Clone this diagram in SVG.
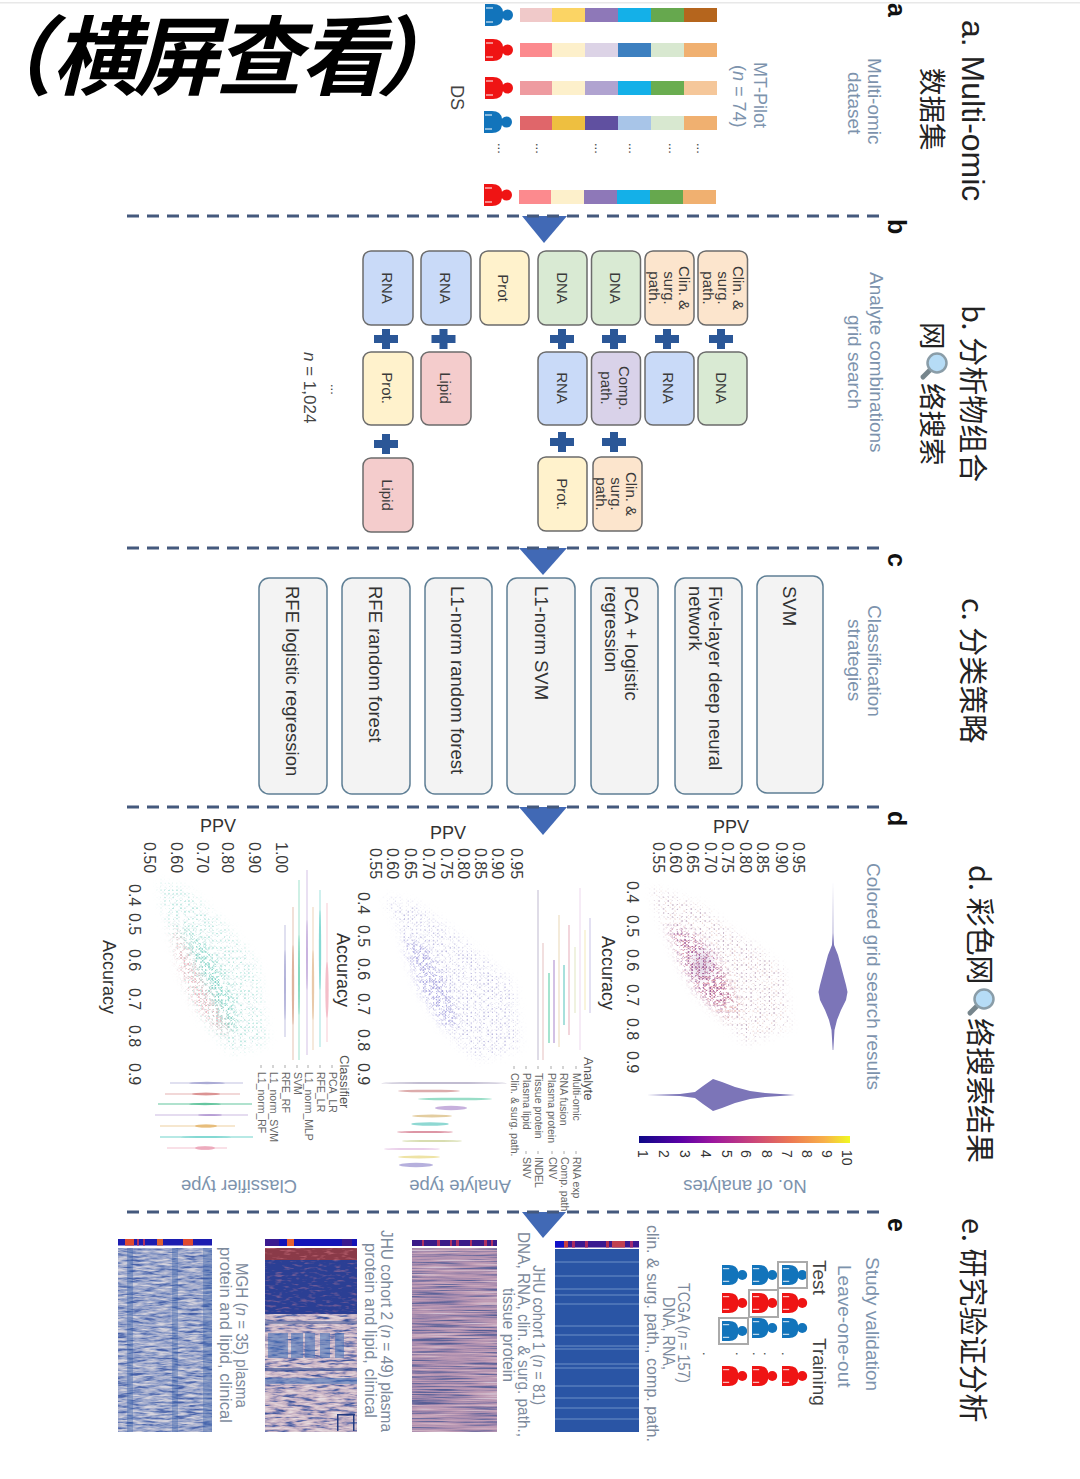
<svg xmlns="http://www.w3.org/2000/svg" width="1080" height="1479" viewBox="0 0 1080 1479">
<style>
text{font-family:"Liberation Sans",Arial,"Noto Sans CJK SC",sans-serif;fill:#333}
.cjk{font-family:"Noto Sans CJK SC","Liberation Sans",sans-serif;font-size:29px;fill:#222}
.sec{font-size:32px;fill:#222}
.cn2{font-family:"Noto Sans CJK SC",sans-serif;font-size:27.5px;fill:#222}
.let{font-size:25px;font-weight:700;fill:#111}
.lab{font-size:19px;fill:#7d93ad}
.lab2{font-size:16.5px;fill:#7d8a9c}
.dk{font-size:18px;fill:#444}
.bx{stroke:#6b6b6b;stroke-width:1.5}
.rna{fill:#c9daf8}.dna{fill:#d9ead3}.prot{fill:#fff2cc}.lip{fill:#f4cccc}.cl{fill:#fce5cd}.cp{fill:#d9d2e9}
.bt{font-size:15px;text-anchor:middle;fill:#3a3a3a}
.cb{fill:#f3f3f3;stroke:#5f7f95;stroke-width:1.5}
.ct{font-size:18.5px;fill:#333}
.tk{font-size:16px;fill:#3a3a3a}
.ppv{font-size:18px;fill:#333}
.leg{font-size:10.5px;fill:#666}
.legh{font-size:13px;fill:#555}
.up{font-size:18.5px;fill:#7d93ad;text-anchor:middle}
.blue{fill:#1274bb}.red{fill:#ef1414}
.gb{fill:none;stroke:#aaaaaa;stroke-width:2}
.dash{stroke:#44597d;stroke-width:3;stroke-dasharray:12 8;fill:none}
.tri{fill:#4169b5}
.vl{stroke-width:1;opacity:.55}
.sc{filter:url(#sparse)}
.mk{stroke:#aaa;stroke-width:1}
</style>
<defs>
<g id="pb"><path d="M0,-11H8Q17,-11 18,-3V3Q17,11 8,11H0Z"/><circle cx="22.500" cy="0" r="5.500"/><path d="M1,-7H8M1,7H8" stroke="#fff" stroke-width="1" fill="none"/></g>
<path id="plus" d="M-4,-10H4V-4H12V4H4V10H-4V4H-12V-4H-4Z" fill="#2b5797"/>
<linearGradient id="plasma"><stop offset="0" stop-color="#0d0887"/><stop offset=".2" stop-color="#5c01a6"/><stop offset=".35" stop-color="#9c179e"/><stop offset=".55" stop-color="#cc4778"/><stop offset=".72" stop-color="#ed7953"/><stop offset=".88" stop-color="#f8b149"/><stop offset="1" stop-color="#f0f921"/></linearGradient>
<filter id="soft" x="-10%" y="-60%" width="120%" height="220%"><feGaussianBlur stdDeviation=".5"/></filter>
<filter id="softv" x="-100%" y="-10%" width="300%" height="120%"><feGaussianBlur stdDeviation=".5"/></filter>
<filter id="blur3" x="-30%" y="-30%" width="160%" height="160%"><feGaussianBlur stdDeviation="5"/></filter>
<filter id="sparse" x="0" y="0" width="1" height="1" color-interpolation-filters="sRGB"><feTurbulence type="fractalNoise" baseFrequency=".3" numOctaves="2" seed="5"/><feColorMatrix type="matrix" values="0 0 0 0 0 0 0 0 0 0 0 0 0 0 0 10 0 0 0 -4.4" result="m"/><feComposite in="SourceGraphic" in2="m" operator="in"/><feGaussianBlur stdDeviation=".35"/></filter>
<pattern id="pm" width="4.6" height="4" patternUnits="userSpaceOnUse"><circle cx="1.2" cy="1" r=".8" fill="#a98aa8"/><circle cx="3.500" cy="3" r=".6" fill="#d8a49c"/></pattern>
<pattern id="pp" width="3.6" height="3" patternUnits="userSpaceOnUse"><circle cx="1" cy="1" r=".9" fill="#9a4a90"/><circle cx="2.800" cy="2.400" r=".8" fill="#de8aa0"/></pattern>
<pattern id="po" width="3.6" height="3.4" patternUnits="userSpaceOnUse"><circle cx="1" cy="1" r=".8" fill="#e79a90"/><circle cx="2.800" cy="2.600" r=".7" fill="#c88aa8"/></pattern>
<pattern id="pl" width="4.2" height="3.6" patternUnits="userSpaceOnUse"><circle cx="1" cy="1" r=".8" fill="#aaa6d8"/><circle cx="3.100" cy="2.800" r=".6" fill="#c2c0dc"/></pattern>
<pattern id="pl2" width="3.2" height="3" patternUnits="userSpaceOnUse"><circle cx="1" cy="1" r=".9" fill="#a09ce0"/><circle cx="2.500" cy="2.400" r=".7" fill="#bcb8e6"/></pattern>
<pattern id="pt" width="4" height="3.6" patternUnits="userSpaceOnUse"><circle cx="1" cy="1" r=".8" fill="#8ed8cc"/><circle cx="3" cy="2.800" r=".6" fill="#b8cfd8"/></pattern>
<pattern id="pt2" width="3.2" height="3" patternUnits="userSpaceOnUse"><circle cx="1" cy="1" r=".9" fill="#70d0c0"/><circle cx="2.500" cy="2.400" r=".7" fill="#98dcd0"/></pattern>
<pattern id="pr" width="3.6" height="3" patternUnits="userSpaceOnUse"><circle cx="1" cy="1" r=".9" fill="#ee9aa8"/><circle cx="2.800" cy="2.400" r=".7" fill="#f2b4bc"/></pattern>
<mask id="m1" maskUnits="userSpaceOnUse" x="130" y="860" width="700" height="220"><path d="M652,888L700,905L730,930L760,950L783,970L790,1027L747,1043L720,1017L700,997L687,977L670,943L657,907Z" fill="#fff" filter="url(#blur3)"/></mask>
<mask id="m1b" maskUnits="userSpaceOnUse" x="130" y="860" width="700" height="220"><path d="M668,925L695,935L718,960L732,1000L722,1012L700,995L685,970Z" fill="#fff" filter="url(#blur3)"/></mask>
<mask id="m1c" maskUnits="userSpaceOnUse" x="130" y="860" width="700" height="220"><path d="M698,968L725,975L742,1005L730,1022L712,1005Z" fill="#fff" filter="url(#blur3)"/></mask>
<mask id="m2" maskUnits="userSpaceOnUse" x="130" y="860" width="700" height="220"><path d="M385,897L417,905L447,927L483,957L513,983L520,1047L480,1060L457,1043L433,1010L413,967L397,923Z" fill="#fff" filter="url(#blur3)"/></mask>
<mask id="m2b" maskUnits="userSpaceOnUse" x="130" y="860" width="700" height="220"><path d="M403,937L425,945L448,985L458,1025L445,1028L420,990Z" fill="#fff" filter="url(#blur3)"/></mask>
<mask id="m3" maskUnits="userSpaceOnUse" x="130" y="860" width="700" height="220"><path d="M160,882L187,890L223,923L257,963L267,1043L233,1053L213,1033L190,997L177,953L163,907Z" fill="#fff" filter="url(#blur3)"/></mask>
<mask id="m3b" maskUnits="userSpaceOnUse" x="130" y="860" width="700" height="220"><path d="M183,925L205,945L230,990L238,1030L225,1030L205,985L190,950Z" fill="#fff" filter="url(#blur3)"/></mask>
<mask id="m3c" maskUnits="userSpaceOnUse" x="130" y="860" width="700" height="220"><path d="M172,923L187,950L203,983L230,1030L223,1033L197,1007L180,967Z" fill="#fff" filter="url(#blur3)"/></mask>
<filter id="hm2" x="0" y="0" width="1" height="1" color-interpolation-filters="sRGB"><feTurbulence type="fractalNoise" baseFrequency=".015 .6" numOctaves="3" seed="8"/><feColorMatrix type="matrix" values="1 0 0 0 0 1 0 0 0 0 1 0 0 0 0 0 0 0 0 1"/><feComponentTransfer><feFuncR type="table" tableValues=".33 .33 .33 .42 .58 .69 .75 .8 .82 .82 .82"/><feFuncG type="table" tableValues=".36 .36 .36 .42 .5 .57 .61 .68 .75 .75 .75"/><feFuncB type="table" tableValues=".58 .58 .58 .62 .66 .69 .71 .75 .82 .82 .82"/></feComponentTransfer><feComposite in2="SourceAlpha" operator="in"/></filter>
<filter id="hm3" x="0" y="0" width="1" height="1" color-interpolation-filters="sRGB"><feTurbulence type="fractalNoise" baseFrequency=".07 .4" numOctaves="3" seed="14"/><feColorMatrix type="matrix" values="1 0 0 0 0 1 0 0 0 0 1 0 0 0 0 0 0 0 0 1"/><feComponentTransfer><feFuncR type="table" tableValues=".25 .25 .25 .4 .62 .78 .84 .88 .9 .9 .9"/><feFuncG type="table" tableValues=".33 .33 .33 .45 .58 .7 .76 .82 .86 .86 .86"/><feFuncB type="table" tableValues=".6 .6 .6 .68 .72 .77 .8 .84 .88 .88 .88"/></feComponentTransfer><feComposite in2="SourceAlpha" operator="in"/></filter>
<filter id="hm4" x="0" y="0" width="1" height="1" color-interpolation-filters="sRGB"><feTurbulence type="fractalNoise" baseFrequency=".07 .45" numOctaves="3" seed="21"/><feColorMatrix type="matrix" values="1 0 0 0 0 1 0 0 0 0 1 0 0 0 0 0 0 0 0 1"/><feComponentTransfer><feFuncR type="table" tableValues=".28 .28 .28 .36 .5 .62 .7 .8 .85 .85 .85"/><feFuncG type="table" tableValues=".38 .38 .38 .45 .57 .66 .72 .8 .84 .84 .84"/><feFuncB type="table" tableValues=".66 .66 .66 .7 .76 .8 .82 .85 .88 .88 .88"/></feComponentTransfer><feComposite in2="SourceAlpha" operator="in"/></filter>
<filter id="hmd" x="0" y="0" width="1" height="1" color-interpolation-filters="sRGB"><feTurbulence type="fractalNoise" baseFrequency=".12 .4" numOctaves="2" seed="3"/><feColorMatrix type="matrix" values="0 0 0 0 .92 0 0 0 0 .55 0 0 0 0 .6 4 0 0 0 -2.1"/><feComposite in2="SourceAlpha" operator="in"/></filter>
</defs>
<rect width="1080" height="1479" fill="#fff"/>
<rect x="0" y="2" width="1080" height="1.5" fill="#e8e8e8"/>

<g id="title"><text transform="translate(0,88) skewX(-14)" x="6 52 133 216 300 380" y="0" style="font-family:'Liberation Sans','Noto Sans CJK SC',sans-serif;font-size:86px;font-weight:700;fill:#000;font-feature-settings:'palt'">（横屏查看）</text></g>

<g id="connectors">
<path class="tri" d="M522,216H567L544,243Z"/><path class="tri" d="M519,548H567L543,575Z"/><path class="tri" d="M519,807H567L543,835Z"/><path class="tri" d="M522,1212H566L543,1238Z"/>
<path class="dash" d="M127,216H881M127,548H881M127,807H881M127,1212H881"/>
<use href="#plus" x="386" y="339"/><use href="#plus" x="443.500" y="339"/><use href="#plus" x="562" y="339"/><use href="#plus" x="614" y="339"/><use href="#plus" x="667" y="339"/><use href="#plus" x="721" y="339"/>
<use href="#plus" x="386" y="444"/><use href="#plus" x="562" y="442"/><use href="#plus" x="614" y="442"/>
</g>

<g id="headers">
<text class="let" transform="translate(888,3) rotate(90)">a</text>
<text class="let" transform="translate(888,219) rotate(90)">b</text>
<text class="let" transform="translate(888,553) rotate(90)">c</text>
<text class="let" transform="translate(888,811) rotate(90)">d</text>
<text class="let" transform="translate(888,1218) rotate(90)">e</text>
<text class="sec" transform="translate(962,20) rotate(90)">a. Multi-omic</text>
<text class="cn2" transform="translate(922,68) rotate(90)">数据集</text>
<text class="cjk" transform="translate(962,305) rotate(90)">b. 分析物组合</text>
<text class="cn2" transform="translate(922,322) rotate(90)">网</text>
<text class="cn2" transform="translate(922,383) rotate(90)">络搜索</text>
<g id="mag1"><path d="M923,377L931,369" stroke="#76858c" stroke-width="5" stroke-linecap="round"/><circle cx="937" cy="363" r="9.500" fill="#b6dcf6" stroke="#8a9da8" stroke-width="2.500"/></g>
<text class="cjk" transform="translate(962,598) rotate(90)">c. 分类策略</text>
<text class="cjk" transform="translate(969,865) rotate(90)">d. 彩色网</text>
<g id="mag2"><path d="M970,1013L978,1005" stroke="#76858c" stroke-width="5" stroke-linecap="round"/><circle cx="984" cy="999" r="9.500" fill="#b6dcf6" stroke="#8a9da8" stroke-width="2.500"/></g>
<text class="cjk" transform="translate(969,1018) rotate(90)">络搜索结果</text>
<text class="cjk" transform="translate(962,1218) rotate(90)">e. 研究验证分析</text>
</g>

<g id="panel-a">
<text class="lab" transform="translate(868,58) rotate(90)">Multi-omic</text>
<text class="lab" transform="translate(848,72) rotate(90)">dataset</text>
<text class="dk" transform="translate(754,62) rotate(90)" style="fill:#7d93ad">MT-Pilot</text>
<text class="dk" transform="translate(733,65) rotate(90)" style="fill:#7d93ad">(<tspan font-style="italic">n</tspan> = 74)</text>
<text class="dk" transform="translate(451,85) rotate(90)">DS</text>
<g id="row1"><use href="#pb" class="blue" x="485" y="15"/><rect x="520" y="8" width="32" height="14" fill="#f0c9c9"/><rect x="552" y="8" width="33" height="14" fill="#fbd464"/><rect x="585" y="8" width="33" height="14" fill="#8e78b8"/><rect x="618" y="8" width="33" height="14" fill="#14b0e8"/><rect x="651" y="8" width="33" height="14" fill="#66a84e"/><rect x="684" y="8" width="33" height="14" fill="#b5651d"/></g>
<g id="row2"><use href="#pb" class="red" x="485" y="50"/><rect x="520" y="43" width="32" height="14" fill="#fc8a8e"/><rect x="552" y="43" width="33" height="14" fill="#fdf0cb"/><rect x="585" y="43" width="33" height="14" fill="#dcd3e6"/><rect x="618" y="43" width="33" height="14" fill="#3d80c0"/><rect x="651" y="43" width="33" height="14" fill="#d8e8d0"/><rect x="684" y="43" width="33" height="14" fill="#f0b070"/></g>
<g id="row3"><use href="#pb" class="red" x="485" y="88"/><rect x="520" y="81" width="32" height="14" fill="#ee9ba0"/><rect x="552" y="81" width="33" height="14" fill="#fdf0cb"/><rect x="585" y="81" width="33" height="14" fill="#b0a3d0"/><rect x="618" y="81" width="33" height="14" fill="#14b0e8"/><rect x="651" y="81" width="33" height="14" fill="#6aad50"/><rect x="684" y="81" width="33" height="14" fill="#f5c79a"/></g>
<g id="row4"><use href="#pb" class="blue" x="484" y="122"/><rect x="520" y="116" width="32" height="14" fill="#e0666a"/><rect x="552" y="116" width="33" height="14" fill="#eebf40"/><rect x="585" y="116" width="33" height="14" fill="#6050a0"/><rect x="618" y="116" width="33" height="14" fill="#a8c5e8"/><rect x="651" y="116" width="33" height="14" fill="#d8e8d0"/><rect x="684" y="116" width="33" height="14" fill="#f0b070"/></g>
<g id="row5"><use href="#pb" class="red" x="484" y="195"/><rect x="519" y="190" width="32" height="14" fill="#fc8a8e"/><rect x="551" y="190" width="33" height="14" fill="#fdf0cb"/><rect x="584" y="190" width="33" height="14" fill="#8e78b8"/><rect x="617" y="190" width="33" height="14" fill="#14b0e8"/><rect x="650" y="190" width="33" height="14" fill="#66a84e"/><rect x="683" y="190" width="33" height="14" fill="#f0b070"/></g>
<g font-size="13"><text transform="translate(498,143) rotate(90)">...</text><text transform="translate(536,143) rotate(90)">...</text><text transform="translate(595,143) rotate(90)">...</text><text transform="translate(629,143) rotate(90)">...</text><text transform="translate(669,143) rotate(90)">...</text><text transform="translate(697,143) rotate(90)">...</text></g>
</g>

<g id="panel-b">
<text class="lab" transform="translate(870,272) rotate(90)">Analyte combinations</text>
<text class="lab" transform="translate(848,315) rotate(90)">grid search</text>
<text class="dk" transform="translate(304,352) rotate(90)" style="font-size:17px"><tspan font-style="italic">n</tspan> = 1,024</text>
<text transform="translate(331,384) rotate(90)" font-size="13">...</text>
<g id="b-r1"><rect class="bx rna" x="363" y="251" width="50" height="74" rx="8"/><text class="bt" transform="translate(382,288) rotate(90)">RNA</text></g>
<g id="b-r2"><rect class="bx rna" x="421" y="251" width="50" height="74" rx="8"/><text class="bt" transform="translate(440,288) rotate(90)">RNA</text></g>
<g id="b-p1"><rect class="bx prot" x="480" y="251" width="49" height="74" rx="8"/><text class="bt" transform="translate(498,288) rotate(90)">Prot</text></g>
<g id="b-d1"><rect class="bx dna" x="538" y="251" width="49" height="74" rx="8"/><text class="bt" transform="translate(557,288) rotate(90)">DNA</text></g>
<g id="b-d2"><rect class="bx dna" x="591.500" y="251" width="49" height="74" rx="8"/><text class="bt" transform="translate(610,288) rotate(90)">DNA</text></g>
<g id="b-c1"><rect class="bx cl" x="645" y="251" width="49" height="74" rx="8"/><text class="bt" transform="translate(679,288) rotate(90)">Clin. &amp;</text><text class="bt" transform="translate(664,288) rotate(90)">surg.</text><text class="bt" transform="translate(649,288) rotate(90)">path.</text></g>
<g id="b-c2"><rect class="bx cl" x="698" y="251" width="49.500" height="74" rx="8"/><text class="bt" transform="translate(733,288) rotate(90)">Clin. &amp;</text><text class="bt" transform="translate(718,288) rotate(90)">surg.</text><text class="bt" transform="translate(703,288) rotate(90)">path.</text></g>
<g id="b-p2"><rect class="bx prot" x="363" y="352" width="50" height="73" rx="8"/><text class="bt" transform="translate(382,388) rotate(90)">Prot.</text></g>
<g id="b-l1"><rect class="bx lip" x="421" y="352" width="50" height="73" rx="8"/><text class="bt" transform="translate(440,388) rotate(90)">Lipid</text></g>
<g id="b-r3"><rect class="bx rna" x="538" y="352" width="49" height="73" rx="8"/><text class="bt" transform="translate(557,388) rotate(90)">RNA</text></g>
<g id="b-cp"><rect class="bx cp" x="591.500" y="352" width="49" height="73" rx="8"/><text class="bt" transform="translate(619,388) rotate(90)">Comp.</text><text class="bt" transform="translate(601,388) rotate(90)">path.</text></g>
<g id="b-r4"><rect class="bx rna" x="645" y="352" width="49" height="73" rx="8"/><text class="bt" transform="translate(663,388) rotate(90)">RNA</text></g>
<g id="b-d3"><rect class="bx dna" x="698" y="352" width="49" height="73" rx="8"/><text class="bt" transform="translate(716,388) rotate(90)">DNA</text></g>
<g id="b-l2"><rect class="bx lip" x="363" y="458" width="50" height="74" rx="8"/><text class="bt" transform="translate(382,495) rotate(90)">Lipid</text></g>
<g id="b-p3"><rect class="bx prot" x="538" y="457" width="49" height="74" rx="8"/><text class="bt" transform="translate(557,494) rotate(90)">Prot.</text></g>
<g id="b-c3"><rect class="bx cl" x="593" y="457" width="49" height="74" rx="8"/><text class="bt" transform="translate(626,494) rotate(90)">Clin. &amp;</text><text class="bt" transform="translate(611,494) rotate(90)">surg.</text><text class="bt" transform="translate(596,494) rotate(90)">path.</text></g>
</g>

<g id="panel-c">
<text class="lab" transform="translate(868,605) rotate(90)">Classification</text>
<text class="lab" transform="translate(848,619) rotate(90)">strategies</text>
<g id="c1"><rect class="cb" x="757" y="576" width="66" height="217" rx="10"/><text class="ct" transform="translate(783,586) rotate(90)">SVM</text></g>
<g id="c2"><rect class="cb" x="675" y="578" width="67" height="216" rx="10"/><text class="ct" transform="translate(709,586) rotate(90)">Five-layer deep neural</text><text class="ct" transform="translate(689,586) rotate(90)">network</text></g>
<g id="c3"><rect class="cb" x="591" y="578" width="67" height="216" rx="10"/><text class="ct" transform="translate(625,586) rotate(90)">PCA + logistic</text><text class="ct" transform="translate(605,586) rotate(90)">regression</text></g>
<g id="c4"><rect class="cb" x="507" y="578" width="68" height="216" rx="10"/><text class="ct" transform="translate(535,586) rotate(90)">L1-norm SVM</text></g>
<g id="c5"><rect class="cb" x="425" y="578" width="67" height="216" rx="10"/><text class="ct" transform="translate(451,586) rotate(90)">L1-norm random forest</text></g>
<g id="c6"><rect class="cb" x="342" y="578" width="68" height="216" rx="10"/><text class="ct" transform="translate(369,586) rotate(90)">RFE random forest</text></g>
<g id="c7"><rect class="cb" x="259" y="578" width="68" height="216" rx="10"/><text class="ct" transform="translate(286,586) rotate(90)">RFE logistic regression</text></g>
</g>

<g id="panel-d1">
<text class="lab" transform="translate(867,863) rotate(90)">Colored grid search results</text>
<text class="ppv" x="713" y="833">PPV</text>
<text class="tk" transform="translate(793,842) rotate(90)">0.95</text><text class="tk" transform="translate(776,842) rotate(90)">0.90</text><text class="tk" transform="translate(757,842) rotate(90)">0.85</text><text class="tk" transform="translate(740,842) rotate(90)">0.80</text><text class="tk" transform="translate(722,842) rotate(90)">0.75</text><text class="tk" transform="translate(705,842) rotate(90)">0.70</text><text class="tk" transform="translate(687,842) rotate(90)">0.65</text><text class="tk" transform="translate(670,842) rotate(90)">0.60</text><text class="tk" transform="translate(653,842) rotate(90)">0.55</text>
<text class="tk" transform="translate(627,881) rotate(90)">0.4</text><text class="tk" transform="translate(627,915) rotate(90)">0.5</text><text class="tk" transform="translate(627,949) rotate(90)">0.6</text><text class="tk" transform="translate(627,984) rotate(90)">0.7</text><text class="tk" transform="translate(627,1018) rotate(90)">0.8</text><text class="tk" transform="translate(627,1051) rotate(90)">0.9</text>
<g id="scatter1">
<g mask="url(#m1)"><rect class="sc" x="640" y="870" width="160" height="190" fill="url(#pm)"/></g>
<g mask="url(#m1c)"><rect class="sc" x="680" y="950" width="80" height="90" fill="url(#po)"/></g>
<g mask="url(#m1b)"><rect class="sc" x="650" y="910" width="100" height="120" fill="url(#pp)"/></g>
<ellipse cx="702" cy="965" rx="9" ry="13" fill="#6a2a80" opacity=".2" filter="url(#blur3)"/>
</g>
<path id="v1" fill="#7b75b8" filter="url(#soft)" d="M833,882L832.700,933L832,945L828,955L824,970L820,985L818.500,992L820,1000L825,1010L829,1020L831.500,1030L832.700,1050H833.300L834.500,1030L837,1020L841,1010L846,1000L847.500,992L846,985L842,970L838,955L834,945L833.300,933Z"/>
<path id="v2" fill="#7b75b8" filter="url(#soft)" d="M647,1095L680,1094L695,1092L703,1086L713,1079L722,1082L735,1087L750,1091L765,1093L780,1094L795,1095L780,1096L765,1097L750,1099L735,1103L722,1108L713,1111L703,1104L695,1098L680,1096Z"/>
<rect x="639" y="1136" width="211" height="7" fill="url(#plasma)"/>
<g id="cbar-ticks" font-size="14"><text transform="translate(638,1150) rotate(90)">1</text><text transform="translate(659,1150) rotate(90)">2</text><text transform="translate(680,1150) rotate(90)">3</text><text transform="translate(701,1150) rotate(90)">4</text><text transform="translate(722,1150) rotate(90)">5</text><text transform="translate(741,1150) rotate(90)">6</text><text transform="translate(762,1150) rotate(90)">8</text><text transform="translate(782,1150) rotate(90)">7</text><text transform="translate(802,1150) rotate(90)">8</text><text transform="translate(822,1150) rotate(90)">9</text><text transform="translate(842,1150) rotate(90)">10</text></g>
<text class="up" transform="translate(745,1180) rotate(180)">No. of analytes</text>
</g>

<g id="panel-d2">
<text class="ppv" x="430" y="839">PPV</text>
<text class="tk" transform="translate(511,848) rotate(90)">0.95</text><text class="tk" transform="translate(492,848) rotate(90)">0.90</text><text class="tk" transform="translate(475,848) rotate(90)">0.85</text><text class="tk" transform="translate(458,848) rotate(90)">0.80</text><text class="tk" transform="translate(441,848) rotate(90)">0.75</text><text class="tk" transform="translate(423,848) rotate(90)">0.70</text><text class="tk" transform="translate(405,848) rotate(90)">0.65</text><text class="tk" transform="translate(387,848) rotate(90)">0.60</text><text class="tk" transform="translate(370,848) rotate(90)">0.55</text>
<text class="tk" transform="translate(358,892) rotate(90)">0.4</text><text class="tk" transform="translate(358,925) rotate(90)">0.5</text><text class="tk" transform="translate(358,958) rotate(90)">0.6</text><text class="tk" transform="translate(358,993) rotate(90)">0.7</text><text class="tk" transform="translate(358,1029) rotate(90)">0.8</text><text class="tk" transform="translate(358,1063) rotate(90)">0.9</text>
<text class="ppv" transform="translate(602,936) rotate(90)">Accuracy</text>
<g id="scatter2">
<g mask="url(#m2)"><rect class="sc" x="375" y="885" width="155" height="185" fill="url(#pl)"/></g>
<g mask="url(#m2b)"><rect class="sc" x="395" y="925" width="75" height="115" fill="url(#pl2)"/></g>
</g>
<g id="vi2">
<g class="vl"><line x1="538" y1="890" x2="538" y2="1060" stroke="#8a80a8"/><line x1="543" y1="943" x2="543" y2="1060" stroke="#d08a8a"/><line x1="549" y1="973" x2="549" y2="1043" stroke="#5ecfa8" stroke-width="2"/><line x1="554" y1="960" x2="554" y2="1043" stroke="#b090d0" stroke-width="2"/><line x1="559" y1="915" x2="559" y2="1047" stroke="#d8b878"/><line x1="564" y1="965" x2="564" y2="1025" stroke="#60c8c0" stroke-width="2"/><line x1="569" y1="925" x2="569" y2="1035" stroke="#d06a80"/><line x1="575" y1="947" x2="575" y2="1013" stroke="#c8d090"/><line x1="580" y1="888" x2="580" y2="1050" stroke="#e0b8e0"/><line x1="585" y1="930" x2="585" y2="1010" stroke="#e8d880"/><line x1="590" y1="918" x2="590" y2="1013" stroke="#9890d0"/></g>
<g filter="url(#soft)" opacity=".7"><ellipse cx="444" cy="1083" rx="63" ry=".8" fill="#8a80a8"/><ellipse cx="429" cy="1091" rx="31" ry="1.300" fill="#d08a8a"/><ellipse cx="455" cy="1099" rx="37" ry="1.300" fill="#6ed0b0"/><ellipse cx="451" cy="1108" rx="16" ry="2.200" fill="#b090d0"/><ellipse cx="432" cy="1116" rx="20" ry="1.500" fill="#d8b878"/><ellipse cx="430" cy="1124" rx="19" ry="1.800" fill="#60c8c0"/><ellipse cx="425" cy="1132" rx="28" ry="1.100" fill="#d06a80"/><ellipse cx="432" cy="1141" rx="30" ry="1" fill="#c8d090"/><ellipse cx="412" cy="1149" rx="28" ry="1" fill="#e0b8e0"/><ellipse cx="419" cy="1157" rx="21" ry="1.400" fill="#e8d880"/><ellipse cx="416" cy="1165" rx="17" ry="2.200" fill="#9890d0"/></g>
</g>
<g id="legend2"><text class="legh" transform="translate(584,1057) rotate(90)">Analyte</text>
<path class="mk" d="M576,1066v3M563,1066v3M551,1066v3M538,1066v3M526,1066v3M514,1066v3M576,1151v3M564,1151v3M552,1151v3M538,1151v3M526,1151v3"/>
<text class="leg" transform="translate(573,1073) rotate(90)">Multi-omic</text><text class="leg" transform="translate(560,1073) rotate(90)">RNA fusion</text><text class="leg" transform="translate(548,1073) rotate(90)">Plasma protein</text><text class="leg" transform="translate(535,1073) rotate(90)">Tissue protein</text><text class="leg" transform="translate(523,1073) rotate(90)">Plasma lipid</text><text class="leg" transform="translate(511,1073) rotate(90)">Clin. &amp; surg. path.</text>
<text class="leg" transform="translate(573,1157) rotate(90)">RNA exp</text><text class="leg" transform="translate(561,1157) rotate(90)">Comp. path</text><text class="leg" transform="translate(549,1157) rotate(90)">CNV</text><text class="leg" transform="translate(535,1157) rotate(90)">INDEL</text><text class="leg" transform="translate(523,1157) rotate(90)">SNV</text></g>
<text class="up" transform="translate(460,1180) rotate(180)">Analyte type</text>
</g>

<g id="panel-d3">
<text class="ppv" x="200" y="832">PPV</text>
<text class="tk" transform="translate(276,842) rotate(90)">1.00</text><text class="tk" transform="translate(249,842) rotate(90)">0.90</text><text class="tk" transform="translate(222,842) rotate(90)">0.80</text><text class="tk" transform="translate(197,842) rotate(90)">0.70</text><text class="tk" transform="translate(171,842) rotate(90)">0.60</text><text class="tk" transform="translate(144,842) rotate(90)">0.50</text>
<text class="tk" transform="translate(129,884) rotate(90)">0.4</text><text class="tk" transform="translate(129,913) rotate(90)">0.5</text><text class="tk" transform="translate(129,949) rotate(90)">0.6</text><text class="tk" transform="translate(129,988) rotate(90)">0.7</text><text class="tk" transform="translate(129,1025) rotate(90)">0.8</text><text class="tk" transform="translate(129,1063) rotate(90)">0.9</text>
<text class="ppv" transform="translate(103,940) rotate(90)">Accuracy</text>
<text class="ppv" transform="translate(337,933) rotate(90)">Accuracy</text>
<g id="scatter3">
<g mask="url(#m3)"><rect class="sc" x="150" y="870" width="130" height="195" fill="url(#pt)"/></g>
<g mask="url(#m3b)"><rect class="sc" x="175" y="915" width="75" height="125" fill="url(#pt2)"/></g>
<g mask="url(#m3c)"><rect class="sc" x="162" y="915" width="80" height="128" fill="url(#pr)"/></g>
</g>
<g id="vi3">
<g class="vl"><line x1="285" y1="925" x2="285" y2="1037" stroke="#8f8fc8"/><line x1="293" y1="907" x2="293" y2="1060" stroke="#d09070"/><line x1="299" y1="880" x2="299" y2="1060" stroke="#50c8a0"/><line x1="307" y1="870" x2="307" y2="1055" stroke="#b090d0"/><line x1="313" y1="907" x2="313" y2="1050" stroke="#e0b080"/><line x1="320" y1="890" x2="320" y2="1047" stroke="#50c8c0"/><line x1="327" y1="903" x2="327" y2="1042" stroke="#f0a0b0"/></g>
<g filter="url(#softv)" opacity=".55"><ellipse cx="285" cy="985" rx="1" ry="35" fill="#8f8fc8"/><ellipse cx="293" cy="985" rx="1.200" ry="40" fill="#d09070"/><ellipse cx="299" cy="975" rx="1" ry="40" fill="#50c8a0"/><ellipse cx="307" cy="955" rx="1" ry="35" fill="#b090d0"/><ellipse cx="313" cy="985" rx="1.200" ry="35" fill="#e0b080"/><ellipse cx="320" cy="950" rx="1.200" ry="40" fill="#50c8c0"/><ellipse cx="327" cy="990" rx="1.800" ry="28" fill="#f0a0b0"/></g>
<g class="vl"><line x1="170" y1="1083" x2="243" y2="1083" stroke="#8f8fc8"/><line x1="165" y1="1094" x2="240" y2="1094" stroke="#d07070"/><line x1="158" y1="1104" x2="252" y2="1104" stroke="#40b888" stroke-width="1.500"/><line x1="155" y1="1115" x2="248" y2="1115" stroke="#a080c8"/><line x1="160" y1="1126" x2="235" y2="1126" stroke="#e0a850"/><line x1="160" y1="1137" x2="253" y2="1137" stroke="#50c8c0" stroke-width="1.500"/><line x1="167" y1="1148" x2="227" y2="1148" stroke="#e890a8"/></g>
<g filter="url(#soft)" opacity=".65"><ellipse cx="207" cy="1083" rx="18" ry="1.200" fill="#8f8fc8"/><ellipse cx="206" cy="1094" rx="14" ry="1.500" fill="#d07070"/><ellipse cx="205" cy="1104" rx="16" ry="1.200" fill="#40b888"/><ellipse cx="210" cy="1115" rx="12" ry="1" fill="#a080c8"/><ellipse cx="206" cy="1126" rx="11" ry="1.800" fill="#e0a850"/><ellipse cx="206" cy="1137" rx="25" ry=".8" fill="#50c8c0"/><ellipse cx="205" cy="1148" rx="10" ry="2" fill="#e890a8"/></g>
</g>
<g id="legend3"><text class="legh" transform="translate(340,1055) rotate(90)">Classifier</text>
<path class="mk" d="M332,1065v3M320,1065v3M308,1065v3M297,1065v3M285,1065v3M273,1065v3M261,1065v3"/>
<text class="leg" transform="translate(329,1072) rotate(90)">PCA_LR</text><text class="leg" transform="translate(317,1072) rotate(90)">RFE_LR</text><text class="leg" transform="translate(305,1072) rotate(90)">L1_norm_MLP</text><text class="leg" transform="translate(294,1072) rotate(90)">SVM</text><text class="leg" transform="translate(282,1072) rotate(90)">RFE_RF</text><text class="leg" transform="translate(270,1072) rotate(90)">L1_norm_SVM</text><text class="leg" transform="translate(258,1072) rotate(90)">L1_norm_RF</text></g>
<text class="up" transform="translate(239,1180) rotate(180)">Classifier type</text>
</g>

<g id="panel-e">
<text class="lab" transform="translate(866,1257) rotate(90)">Study validation</text>
<text class="lab" transform="translate(838,1265) rotate(90)">Leave-one-out</text>
<text class="dk" transform="translate(813,1260) rotate(90)" style="font-size:19px">Test</text>
<text class="dk" transform="translate(813,1338) rotate(90)" style="font-size:19px">Training</text>
<g id="persons-e">
<g transform="translate(782,1275) scale(.9)"><use href="#pb" class="blue"/></g><g transform="translate(752,1275) scale(.9)"><use href="#pb" class="blue"/></g><g transform="translate(722,1275) scale(.9)"><use href="#pb" class="blue"/></g>
<g transform="translate(782,1303) scale(.9)"><use href="#pb" class="red"/></g><g transform="translate(752,1303) scale(.9)"><use href="#pb" class="red"/></g><g transform="translate(722,1303) scale(.9)"><use href="#pb" class="red"/></g>
<g transform="translate(782,1328) scale(.9)"><use href="#pb" class="blue"/></g><g transform="translate(752,1328) scale(.9)"><use href="#pb" class="blue"/></g><g transform="translate(722,1331) scale(.9)"><use href="#pb" class="blue"/></g>
<g transform="translate(782,1376) scale(.9)"><use href="#pb" class="red"/></g><g transform="translate(752,1376) scale(.9)"><use href="#pb" class="red"/></g><g transform="translate(722,1376) scale(.9)"><use href="#pb" class="red"/></g>
<rect class="gb" x="778" y="1262" width="29" height="26"/><rect class="gb" x="749" y="1290" width="29" height="27"/><rect class="gb" x="719" y="1318" width="29" height="26"/>
</g>
<g font-size="13" id="dots-e"><text transform="translate(782,1352) rotate(90)">.</text><text transform="translate(764,1352) rotate(90)">.</text><text transform="translate(753,1352) rotate(90)">.</text><text transform="translate(736,1352) rotate(90)">.</text><text transform="translate(703,1352) rotate(90)">.</text></g>
<g id="e-labels">
<text class="lab2" transform="translate(678,1283) rotate(90)" textLength="100" lengthAdjust="spacingAndGlyphs">TCGA (<tspan font-style="italic">n</tspan> = 157)</text>
<text class="lab2" transform="translate(663,1297) rotate(90)" textLength="73" lengthAdjust="spacingAndGlyphs">DNA, RNA,</text>
<text class="lab2" transform="translate(647,1225) rotate(90)" textLength="217" lengthAdjust="spacingAndGlyphs">clin. &amp; surg. path., comp. path.</text>
<text class="lab2" transform="translate(533,1265) rotate(90)" textLength="140" lengthAdjust="spacingAndGlyphs">JHU cohort 1 (<tspan font-style="italic">n</tspan> = 81)</text>
<text class="lab2" transform="translate(518,1232) rotate(90)" textLength="205" lengthAdjust="spacingAndGlyphs">DNA, RNA, clin. &amp; surg. path.,</text>
<text class="lab2" transform="translate(503,1288) rotate(90)" textLength="94" lengthAdjust="spacingAndGlyphs">tissue protein</text>
<text class="lab2" transform="translate(381,1230) rotate(90)" textLength="202" lengthAdjust="spacingAndGlyphs">JHU cohort 2 (<tspan font-style="italic">n</tspan> = 49) plasma</text>
<text class="lab2" transform="translate(365,1243) rotate(90)" textLength="175" lengthAdjust="spacingAndGlyphs">protein and lipid, clinical</text>
<text class="lab2" transform="translate(236,1263) rotate(90)" textLength="145" lengthAdjust="spacingAndGlyphs">MGH (<tspan font-style="italic">n</tspan> = 35) plasma</text>
<text class="lab2" transform="translate(220,1247) rotate(90)" textLength="176" lengthAdjust="spacingAndGlyphs">protein and lipid, clinical</text>
</g>
<g id="hm1">
<rect x="555" y="1241" width="84" height="6.500" fill="#3a1a90"/><rect x="555" y="1241" width="9" height="6.500" fill="#1010c8"/><rect x="564" y="1241" width="4" height="6.500" fill="#c84040"/><rect x="572" y="1241" width="3" height="6.500" fill="#a82a60"/><rect x="585" y="1241" width="3" height="6.500" fill="#a82a60"/><rect x="606" y="1241" width="3" height="6.500" fill="#b03050"/><rect x="612" y="1241" width="13" height="6.500" fill="#c04050"/><rect x="630" y="1241" width="3" height="6.500" fill="#a02a70"/>
<rect x="555" y="1249" width="84" height="183" fill="#2a55a5"/>
<g stroke="#7f9fd0" stroke-width="1" opacity=".8"><path d="M555,1262H639M555,1276H639M555,1289H639M555,1295H639M555,1304H639M555,1326H639M555,1335H639M555,1346H639M555,1349H639M555,1364H639M555,1368H639M555,1386H639M555,1398H639M555,1408H639M555,1419H639"/></g>
</g>
<g id="hm2-g"><rect x="412" y="1240" width="85" height="6" fill="#3a1a88"/><path d="M422,1240h2v6h-2zM437,1240h3v6h-3zM450,1240h2v6h-2zM456,1240h3v6h-3zM470,1240h2v6h-2zM484,1240h3v6h-3zM491,1240h2v6h-2z" fill="#b03060"/>
<rect x="412" y="1248" width="85" height="184" fill="#889" filter="url(#hm2)"/></g>
<g id="hm3-g"><rect x="265" y="1239" width="92" height="7" fill="#1414b8"/><rect x="265" y="1239" width="14" height="7" fill="#3a1a90"/><rect x="287" y="1239" width="7" height="7" fill="#e86030"/><rect x="342" y="1239" width="10" height="7" fill="#3a1a90"/>
<rect x="265" y="1248" width="92" height="184" fill="#888" filter="url(#hm3)"/>
<rect x="265" y="1248" width="92" height="12" fill="#8a3a48"/><rect x="265" y="1248" width="92" height="12" filter="url(#hmd)" opacity=".4"/>
<rect x="265" y="1260" width="92" height="54" fill="#2b3f94"/><rect x="265" y="1260" width="92" height="54" filter="url(#hmd)" opacity=".35"/>
<g fill="#3f6fb8" opacity=".55"><rect x="268" y="1333" width="20" height="25"/><rect x="291" y="1333" width="12" height="25"/><rect x="305" y="1333" width="10" height="25"/><rect x="320" y="1333" width="10" height="25"/><rect x="335" y="1333" width="9" height="25"/><rect x="265" y="1378" width="92" height="6"/></g>
<rect x="265" y="1321" width="92" height="3" fill="#405a9a" opacity=".5"/><rect x="265" y="1368" width="92" height="3" fill="#2f4a8f" opacity=".6"/><rect x="337" y="1414" width="18" height="1.500" fill="#223a80"/><rect x="337" y="1414" width="1.500" height="17" fill="#223a80"/><rect x="353" y="1414" width="1.500" height="17" fill="#223a80"/></g>
<g id="hm4-g"><rect x="118" y="1239" width="94" height="6.500" fill="#1c1cb0"/><rect x="125" y="1239" width="9" height="6.500" fill="#e04a30"/><rect x="157" y="1239" width="6" height="6.500" fill="#e06030"/><rect x="183" y="1239" width="10" height="6.500" fill="#e04a30"/><rect x="137" y="1239" width="2" height="6.500" fill="#b03060"/><rect x="143" y="1239" width="2" height="6.500" fill="#b03060"/>
<rect x="118" y="1248" width="94" height="184" fill="#888" filter="url(#hm4)"/>
<g fill="#2f5aa8" opacity=".35"><rect x="127" y="1248" width="6" height="184"/><rect x="172" y="1248" width="6" height="184"/><rect x="203" y="1248" width="9" height="184"/></g></g>
</g>
</svg>
